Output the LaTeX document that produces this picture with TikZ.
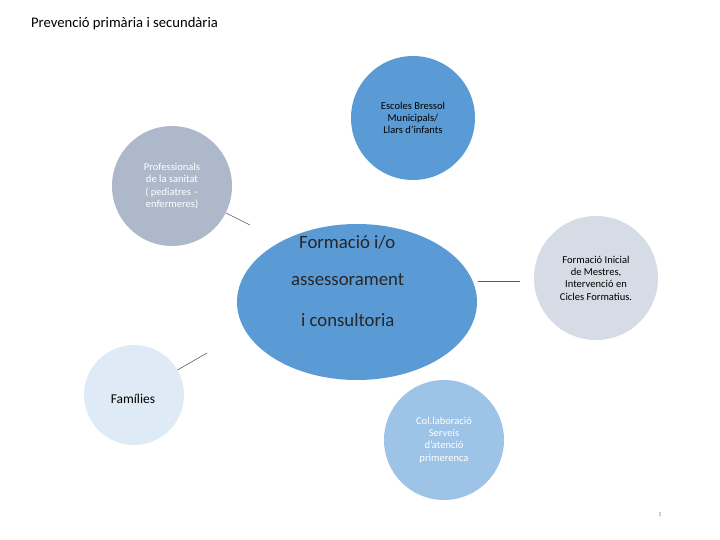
\documentclass[tikz,border=0pt]{standalone}
\usepackage{fontspec}
\setmainfont{Carlito}
\begin{document}
\begin{tikzpicture}[x=0.03cm,y=-0.03cm,
  circ/.style={circle,inner sep=0pt,minimum size=#1*0.06cm,align=center,font=\fontsize{9}{10.5}\selectfont},
  conn/.style={draw=gray!70!black,line width=0.5pt}]
\useasboundingbox (0,0) rectangle (720,540);
\node[anchor=west,font=\fontsize{12.5}{14}\selectfont] (title) at (27,24) {Prevenció primària i secundària};
\fill[color={rgb,255:red,91;green,155;blue,213}] (357,302) ellipse [x radius=120, y radius=78];
\node[anchor=west,font=\fontsize{16}{20}\selectfont,text=black!85] (c1) at (295,242) {Formació i/o};
\node[anchor=west,font=\fontsize{16}{20}\selectfont,text=black!85] (c2) at (287,280) {assessorament};
\node[anchor=west,font=\fontsize{16}{20}\selectfont,text=black!85] (c3) at (297,320) {i consultoria};
\node[circ=62,fill={rgb,255:red,91;green,155;blue,213}] (t) at (413,118) {Escoles Bressol\\Municipals/\\Llars d'infants};
\node[circ=60,fill={rgb,255:red,173;green,185;blue,202},text=white] (p) at (172,186) {Professionals\\de la sanitat\\( pediatres –\\enfermeres)};
\node[circ=62,fill={rgb,255:red,214;green,220;blue,229}] (r) at (596,278) {Formació Inicial\\de Mestres,\\Intervenció en\\Cicles Formatius.};
\node[circ=50,fill={rgb,255:red,222;green,235;blue,247}] (f) at (134,395) {};
\node[font=\fontsize{11.5}{13}\selectfont] (fl) at (133,399) {Famílies};
\node[circ=60,fill={rgb,255:red,157;green,195;blue,230},text=white] (b) at (444,440) {Col.laboració\\Serveis\\d'atenció\\primerenca};
\node[font=\fontsize{5}{6}\selectfont,text=gray] (n) at (660,515) {5};
\coordinate (e1) at (250,225); \coordinate (e2a) at (478,281); \coordinate (e2) at (520,281); \coordinate (e3) at (207,353);
\draw[conn] (p) -- (e1);
\draw[conn] (e2a) -- (e2);
\draw[conn] (f) -- (e3);
\end{tikzpicture}
\end{document}
